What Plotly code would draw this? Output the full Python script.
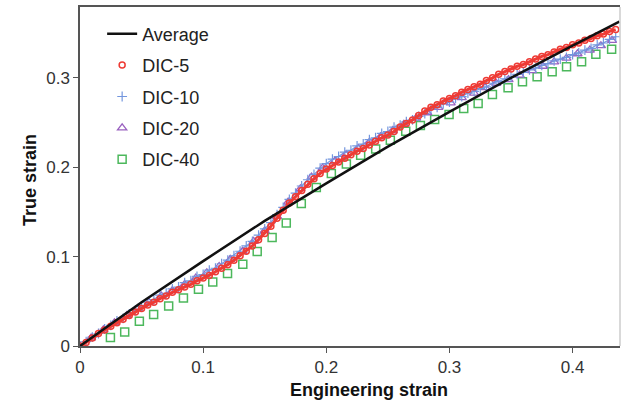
import plotly.graph_objects as go

# ---------------- data ----------------
avg_x = [0.0, 0.05, 0.10, 0.15, 0.20, 0.25, 0.30, 0.35, 0.40, 0.438]
avg_y = [0.0, 0.049, 0.095, 0.140, 0.182, 0.223, 0.262, 0.300, 0.336, 0.363]

dense_x = [0.000, 0.005, 0.010, 0.015, 0.020, 0.025, 0.030, 0.035, 0.040, 0.045,
           0.050, 0.055, 0.060, 0.065, 0.070, 0.075, 0.080, 0.085, 0.090, 0.095,
           0.100, 0.105, 0.110, 0.115, 0.120, 0.125, 0.130, 0.135, 0.140, 0.145,
           0.150, 0.155, 0.160, 0.165, 0.170, 0.175, 0.180, 0.185, 0.190, 0.195,
           0.200, 0.205, 0.210, 0.215, 0.220, 0.225, 0.230, 0.235, 0.240, 0.245,
           0.250, 0.255, 0.260, 0.265, 0.270, 0.275, 0.280, 0.285, 0.290, 0.295,
           0.300, 0.305, 0.310, 0.315, 0.320, 0.325, 0.330, 0.335, 0.340, 0.345,
           0.350, 0.355, 0.360, 0.365, 0.370, 0.375, 0.380, 0.385, 0.390, 0.395,
           0.400, 0.405, 0.410, 0.415, 0.420, 0.425, 0.430, 0.435]

dic5_y = [0.000, 0.004, 0.009, 0.014, 0.018, 0.022, 0.026, 0.030, 0.034, 0.038,
          0.042, 0.046, 0.049, 0.053, 0.056, 0.060, 0.063, 0.066, 0.069, 0.073,
          0.076, 0.079, 0.083, 0.087, 0.091, 0.096, 0.101, 0.106, 0.112, 0.119,
          0.126, 0.134, 0.143, 0.152, 0.160, 0.167, 0.174, 0.181, 0.187, 0.193,
          0.198, 0.202, 0.206, 0.210, 0.214, 0.218, 0.221, 0.225, 0.229, 0.233,
          0.236, 0.240, 0.245, 0.249, 0.253, 0.258, 0.263, 0.267, 0.270, 0.274,
          0.277, 0.280, 0.284, 0.287, 0.290, 0.293, 0.297, 0.300, 0.304, 0.307,
          0.310, 0.313, 0.315, 0.318, 0.321, 0.324, 0.326, 0.329, 0.332, 0.334,
          0.337, 0.339, 0.342, 0.344, 0.347, 0.349, 0.352, 0.354]

dic10_y = [0.000, 0.005, 0.010, 0.014, 0.019, 0.023, 0.028, 0.031, 0.036, 0.040,
           0.044, 0.049, 0.052, 0.057, 0.059, 0.064, 0.066, 0.071, 0.073, 0.078,
           0.080, 0.085, 0.087, 0.092, 0.096, 0.101, 0.106, 0.112, 0.117, 0.124,
           0.131, 0.138, 0.147, 0.155, 0.164, 0.171, 0.179, 0.186, 0.192, 0.199,
           0.204, 0.209, 0.212, 0.217, 0.219, 0.224, 0.226, 0.231, 0.233, 0.238,
           0.240, 0.245, 0.247, 0.251, 0.253, 0.257, 0.260, 0.265, 0.267, 0.271,
           0.273, 0.277, 0.279, 0.283, 0.285, 0.288, 0.290, 0.294, 0.296, 0.299,
           0.301, 0.304, 0.306, 0.309, 0.311, 0.314, 0.316, 0.319, 0.321, 0.323,
           0.326, 0.328, 0.331, 0.333, 0.337, 0.339, 0.343, 0.346]

dic20_x = [0.000, 0.009, 0.019, 0.028, 0.038, 0.047, 0.056, 0.066, 0.075, 0.085,
           0.094, 0.103, 0.113, 0.122, 0.132, 0.141, 0.150, 0.160, 0.169, 0.179,
           0.188, 0.197, 0.207, 0.216, 0.226, 0.235, 0.244, 0.254, 0.263, 0.273,
           0.282, 0.291, 0.301, 0.310, 0.320, 0.329, 0.338, 0.348, 0.357, 0.367,
           0.376, 0.385, 0.395, 0.404, 0.414, 0.423, 0.432]
dic20_y = [0.000, 0.009, 0.018, 0.026, 0.034, 0.042, 0.049, 0.056, 0.062, 0.069,
           0.076, 0.082, 0.089, 0.097, 0.106, 0.117, 0.129, 0.145, 0.161, 0.176,
           0.189, 0.199, 0.207, 0.214, 0.221, 0.228, 0.234, 0.241, 0.248, 0.255,
           0.261, 0.267, 0.272, 0.278, 0.283, 0.289, 0.294, 0.298, 0.303, 0.308,
           0.313, 0.318, 0.322, 0.327, 0.331, 0.336, 0.342]

dic40_x = [0.0247, 0.0363, 0.0482, 0.0598, 0.0720, 0.0840, 0.0962, 0.1078, 0.1198,
           0.1322, 0.1439, 0.1560, 0.1675, 0.1797, 0.1919, 0.2041, 0.2163, 0.2279,
           0.2401, 0.2520, 0.2645, 0.2764, 0.2880, 0.2997, 0.3116, 0.3233, 0.3349,
           0.3476, 0.3593, 0.3712, 0.3834, 0.3951, 0.4073, 0.4189, 0.4317]
dic40_y = [0.0094, 0.0157, 0.0277, 0.0352, 0.0448, 0.0538, 0.0635, 0.0717, 0.0810,
           0.0915, 0.1057, 0.1214, 0.1377, 0.1595, 0.1774, 0.1931, 0.2035, 0.2135,
           0.2203, 0.2303, 0.2404, 0.2468, 0.2535, 0.2591, 0.2658, 0.2714, 0.2815,
           0.2889, 0.2956, 0.3012, 0.3068, 0.3124, 0.3180, 0.3263, 0.3319]

x_ticks = [0, 0.1, 0.2, 0.3, 0.4]
x_ticktext = ["0", "0.1", "0.2", "0.3", "0.4"]
y_ticks = [0, 0.1, 0.2, 0.3]
y_ticktext = ["0", "0.1", "0.2", "0.3"]

# ---------------- figure ----------------
FONT = "Liberation Sans, Arial, sans-serif"
RED = "#ee3b35"
BLUE = "#7396de"
PURPLE = "#9a62c0"
GREEN = "#4cb85c"

fig = go.Figure()

fig.add_trace(go.Scatter(x=dic40_x, y=dic40_y, mode="markers", name="DIC-40",
                         legendgroup="g4", legendrank=5,
                         marker=dict(symbol="square-open", size=8, color=GREEN,
                                     line=dict(width=1.5))))
# dense series drawn as a thin trace through the same points (they read as bands)
fig.add_trace(go.Scatter(x=dense_x, y=dic10_y, mode="lines", showlegend=False,
                         hoverinfo="skip", line=dict(color=BLUE, width=1.2)))
fig.add_trace(go.Scatter(x=dic20_x, y=dic20_y, mode="markers", name="DIC-20",
                         legendgroup="g3", legendrank=4,
                         marker=dict(symbol="triangle-up-open", size=8, color=PURPLE,
                                     line=dict(width=1.3))))
fig.add_trace(go.Scatter(x=dense_x, y=dic10_y, mode="markers", name="DIC-10",
                         legendgroup="g2", legendrank=3,
                         marker=dict(symbol="cross-thin-open", size=7, color=BLUE,
                                     line=dict(width=1.2, color=BLUE))))
fig.add_trace(go.Scatter(x=dense_x, y=dic5_y, mode="lines", showlegend=False,
                         hoverinfo="skip", line=dict(color=RED, width=3)))
fig.add_trace(go.Scatter(x=dense_x, y=dic5_y, mode="markers", name="DIC-5",
                         legendgroup="g1", legendrank=2,
                         marker=dict(symbol="circle-open", size=6, color=RED,
                                     line=dict(width=1.5))))
fig.add_trace(go.Scatter(x=avg_x, y=avg_y, mode="lines", name="Average",
                         legendgroup="g0", legendrank=1,
                         line=dict(color="#111111", width=2.5)))

fig.update_layout(
    width=621, height=402,
    margin=dict(l=80, r=1, t=7, b=56),
    paper_bgcolor="white", plot_bgcolor="white",
    font=dict(family=FONT, size=17, color="#222222"),
    showlegend=True,
    legend=dict(x=0.041, y=0.975, xanchor="left", yanchor="top",
                bgcolor="rgba(0,0,0,0)", tracegroupgap=5,
                font=dict(family=FONT, size=18, color="#222222"),
                itemwidth=30),
    xaxis=dict(range=[0, 0.4385], tickvals=x_ticks, ticktext=x_ticktext,
               ticks="outside", ticklen=5, tickcolor="#555555",
               showline=True, linecolor="#555555", linewidth=1.5, mirror=True,
               showgrid=False, zeroline=False,
               tickfont=dict(family=FONT, size=17, color="#333333")),
    yaxis=dict(range=[0, 0.3793], tickvals=y_ticks, ticktext=y_ticktext,
               ticks="outside", ticklen=5, tickcolor="#555555",
               showline=True, linecolor="#555555", linewidth=1.5,
               showgrid=False, zeroline=False,
               tickfont=dict(family=FONT, size=17, color="#333333")),
    shapes=[dict(type="line", xref="paper", yref="paper", x0=1, x1=1, y0=0, y1=1,
                 line=dict(color="#cccccc", width=1.5))],
    annotations=[
        dict(text="<b>Engineering strain</b>", xref="paper", yref="paper",
             x=(369 - 80) / 540, y=(346 - 390) / 339, xanchor="center", yanchor="middle",
             showarrow=False, font=dict(family=FONT, size=18, color="#111111")),
        dict(text="<b>True strain</b>", xref="paper", yref="paper",
             x=(30 - 80) / 540, y=(346 - 180) / 339, xanchor="center", yanchor="middle",
             textangle=-90, showarrow=False,
             font=dict(family=FONT, size=18, color="#111111")),
    ],
)

fig.write_html("out.html",
               config={"displayModeBar": False},
               post_script="document.body.style.margin='0';"
                           "document.body.style.overflow='hidden';")
